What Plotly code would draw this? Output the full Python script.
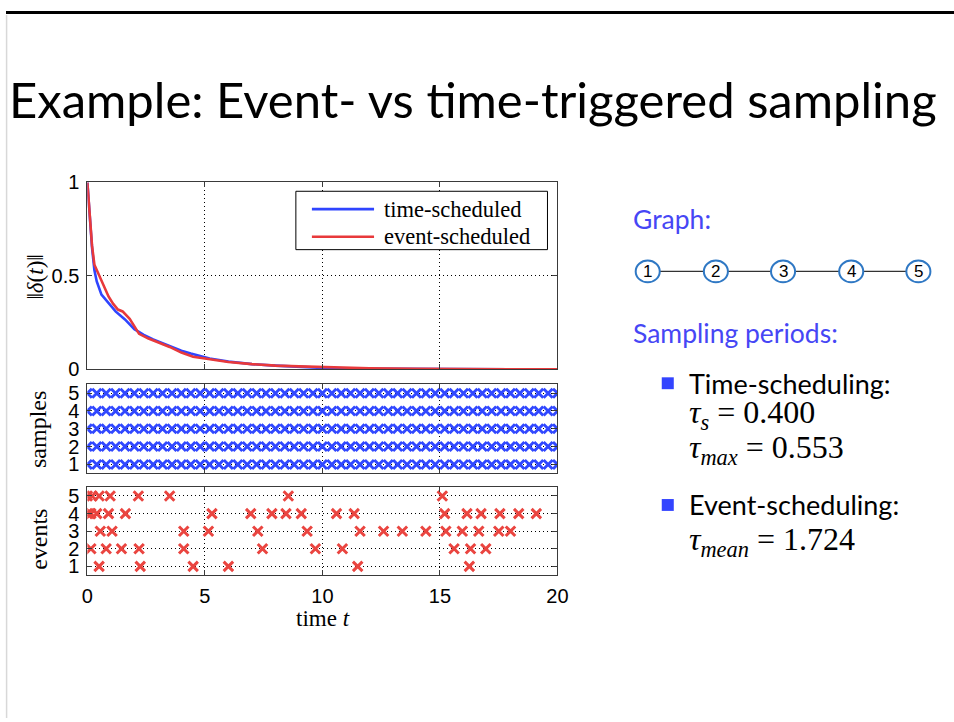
import plotly.graph_objects as go

# Layout positions below are given in slide pixels (954x722 slide). The page
# shows the figure inside the default body margin and at a slight reduction,
# so slide pixels are converted to figure pixels through SCALE and OFF.
SCALE = 0.98
OFF = 8
W = round(954 / SCALE - OFF)
H = round(722 / SCALE - OFF)


def px(x):
    return (x / SCALE - OFF) / W


def py(y):
    return 1 - (y / SCALE - OFF) / H


# ---- disagreement norm ||delta(t)|| ----
t_time = [0, 0.1, 0.2, 0.3, 0.4, 0.6, 0.8, 1.0, 1.2, 1.6, 2.0, 2.4, 2.8, 3.2, 3.6,
          4.0, 4.4, 4.8, 5.2, 6.0, 7.0, 8.0, 9.0, 10.0, 11.0, 12.0, 14.0, 16.0, 18.0, 20.0]
norm_time = [1.0, 0.82, 0.65, 0.53, 0.47, 0.40, 0.37, 0.335, 0.31, 0.267, 0.215, 0.185,
             0.16, 0.14, 0.12, 0.10, 0.085, 0.07, 0.058, 0.042, 0.028, 0.02, 0.013,
             0.008, 0.005, 0.004, 0.002, 0.001, 0.0005, 0.0]

t_event = [0, 0.1, 0.2, 0.3, 0.5, 0.7, 0.9, 1.1, 1.3, 1.5, 1.8, 2.2, 2.6, 3.0, 3.5,
           4.0, 4.5, 5.0, 5.5, 6.0, 7.0, 8.0, 9.0, 10.0, 11.0, 12.0, 14.0, 16.0, 18.0, 20.0]
norm_event = [1.0, 0.80, 0.66, 0.56, 0.50, 0.44, 0.39, 0.35, 0.32, 0.31, 0.27, 0.19,
              0.165, 0.145, 0.12, 0.09, 0.068, 0.058, 0.048, 0.04, 0.028, 0.02, 0.016,
              0.012, 0.009, 0.006, 0.003, 0.0015, 0.0008, 0.0]

# ---- periodic sampling instants (tau_s = 0.4) ----
sample_times = [0.0, 0.4, 0.8, 1.2, 1.6, 2.0, 2.4, 2.8, 3.2, 3.6, 4.0, 4.4, 4.8, 5.2,
                5.6, 6.0, 6.4, 6.8, 7.2, 7.6, 8.0, 8.4, 8.8, 9.2, 9.6, 10.0, 10.4, 10.8,
                11.2, 11.6, 12.0, 12.4, 12.8, 13.2, 13.6, 14.0, 14.4, 14.8, 15.2, 15.6,
                16.0, 16.4, 16.8, 17.2, 17.6, 18.0, 18.4, 18.8, 19.2, 19.6, 20.0]
nodes = [1, 2, 3, 4, 5]

# ---- event-triggered broadcast instants per node ----
events_node1 = [0.5, 2.25, 4.5, 6.0, 11.5, 16.25]
events_node2 = [0.15, 0.8, 1.45, 2.2, 4.1, 7.45, 9.7, 10.85, 15.6, 16.3, 16.95]
events_node3 = [0.55, 1.05, 4.1, 5.15, 7.25, 9.35, 11.6, 12.6, 13.4, 14.4, 15.25,
                15.95, 16.65, 17.5, 18.0]
events_node4 = [0.0, 0.15, 0.4, 0.9, 1.62, 5.3, 6.95, 7.85, 8.45, 9.1, 10.6, 11.35,
                15.2, 16.15, 16.75, 17.55, 18.35, 19.1]
events_node5 = [0.0, 0.2, 0.5, 0.97, 2.17, 3.5, 8.55, 15.1]
events_by_node = [events_node1, events_node2, events_node3, events_node4, events_node5]

x_ticks = [0, 5, 10, 15, 20]
norm_ticks = [0, 0.5, 1]
norm_ticktext = ["0", "0.5", "1"]

BLUE = "#2f45ff"
RED = "#e8393b"
MARK_BLUE = "#3148ff"
MARK_RED = "#ea4540"
FRAME = "#3a3a3a"
TICK_FONT = dict(family="Liberation Sans", size=20, color="black")
SERIF = "Liberation Serif"
SANS = "Lato"

fig = go.Figure()

fig.add_trace(go.Scatter(x=t_time, y=norm_time, mode="lines", name="time-scheduled",
                         line=dict(color=BLUE, width=2.6), xaxis="x", yaxis="y"))
fig.add_trace(go.Scatter(x=t_event, y=norm_event, mode="lines", name="event-scheduled",
                         line=dict(color=RED, width=2.6), xaxis="x", yaxis="y"))

for k in nodes:
    fig.add_trace(go.Scatter(
        x=sample_times, y=[k] * len(sample_times), mode="markers",
        marker=dict(symbol="x-thin", size=9, line=dict(color=MARK_BLUE, width=2.9)),
        xaxis="x2", yaxis="y2", showlegend=False))

for k, ev in zip(nodes, events_by_node):
    fig.add_trace(go.Scatter(
        x=ev, y=[k] * len(ev), mode="markers",
        marker=dict(symbol="x-thin", size=9.5, line=dict(color=MARK_RED, width=3)),
        xaxis="x3", yaxis="y3", showlegend=False))

dom_x = [px(89), px(558)]
axis_common = dict(
    showline=True, linecolor=FRAME, linewidth=1, mirror="ticks",
    ticks="inside", ticklen=5, tickcolor=FRAME, tickwidth=1,
    showgrid=True, gridcolor="black", gridwidth=1, griddash="1px,3px",
    zeroline=False, tickfont=TICK_FONT, fixedrange=True,
)

fig.update_layout(
    width=W, height=H, margin=dict(l=0, r=0, t=0, b=0),
    paper_bgcolor="white", plot_bgcolor="white", showlegend=False,
    xaxis=dict(domain=dom_x, range=[0, 20], tickvals=x_ticks, showticklabels=False,
               anchor="y", **axis_common),
    yaxis=dict(domain=[py(370), py(181)], range=[0, 1], tickvals=norm_ticks,
               ticktext=norm_ticktext, anchor="x", ticklabelstandoff=3, **axis_common),
    xaxis2=dict(domain=dom_x, range=[0, 20], tickvals=x_ticks, showticklabels=False,
                anchor="y2", **axis_common),
    yaxis2=dict(domain=[py(475), py(385)], range=[0.5, 5.5], tickvals=nodes,
                anchor="x2", ticklabelstandoff=3, **axis_common),
    xaxis3=dict(domain=dom_x, range=[0, 20], tickvals=x_ticks, anchor="y3",
                ticklabelstandoff=3, **axis_common),
    yaxis3=dict(domain=[py(578), py(489)], range=[0.5, 5.5], tickvals=nodes,
                anchor="x3", ticklabelstandoff=3, **axis_common),
)

shapes = []
annotations = []

# slide frame: heavy rule along the top edge, faint rule down the left edge
shapes.append(dict(type="line", xref="paper", yref="paper", x0=0, x1=1,
                   y0=1 - 1.5 / H, y1=1 - 1.5 / H, line=dict(color="black", width=3)))
shapes.append(dict(type="line", xref="paper", yref="paper", x0=0.6 / W, x1=0.6 / W,
                   y0=1 - 4 / H, y1=0, line=dict(color="#d8d8d8", width=1.5)))

# title
annotations.append(dict(text="Example: Event- vs time-triggered sampling",
                        xref="paper", yref="paper", x=px(9), y=py(97),
                        xanchor="left", yanchor="middle", showarrow=False,
                        font=dict(family=SANS, size=49, color="black")))

# legend box for the top panel
shapes.append(dict(type="rect", xref="paper", yref="paper",
                   x0=px(297), x1=px(548), y0=py(249), y1=py(190),
                   line=dict(color="black", width=1), fillcolor="white", layer="above"))
for yy, col, label in [(208, BLUE, "time-scheduled"), (236, RED, "event-scheduled")]:
    shapes.append(dict(type="line", xref="paper", yref="paper", x0=px(313), x1=px(375),
                       y0=py(yy), y1=py(yy), line=dict(color=col, width=2.6), layer="above"))
    annotations.append(dict(text=label, xref="paper", yref="paper", x=px(383), y=py(yy),
                            xanchor="left", yanchor="middle", showarrow=False,
                            font=dict(family=SERIF, size=22.5, color="black")))

# axis titles
annotations.append(dict(text="‖<i>δ</i>(<i>t</i>)‖", xref="paper", yref="paper",
                        x=px(37), y=py(277), textangle=-90, showarrow=False,
                        xanchor="center", yanchor="middle",
                        font=dict(family=SERIF, size=23, color="black")))
annotations.append(dict(text="samples", xref="paper", yref="paper",
                        x=px(40), y=py(431), textangle=-90, showarrow=False,
                        xanchor="center", yanchor="middle",
                        font=dict(family=SERIF, size=24, color="black")))
annotations.append(dict(text="events", xref="paper", yref="paper",
                        x=px(40), y=py(542), textangle=-90, showarrow=False,
                        xanchor="center", yanchor="middle",
                        font=dict(family=SERIF, size=24, color="black")))
annotations.append(dict(text="time <i>t</i>", xref="paper", yref="paper",
                        x=px(324), y=py(622), showarrow=False,
                        xanchor="center", yanchor="middle",
                        font=dict(family=SERIF, size=23, color="black")))

# right-hand description
TXT_BLUE = "#4646f5"
annotations.append(dict(text="Graph:", xref="paper", yref="paper", x=px(631), y=py(218),
                        xanchor="left", yanchor="middle", showarrow=False,
                        font=dict(family=SANS, size=26.5, color=TXT_BLUE)))
annotations.append(dict(text="Sampling periods:", xref="paper", yref="paper",
                        x=px(631), y=py(333), xanchor="left", yanchor="middle",
                        showarrow=False, font=dict(family=SANS, size=26.5, color=TXT_BLUE)))

# path graph 1-2-3-4-5
node_cx = [648, 716, 783, 851, 918]
node_cy = 271
rx, ry = 12, 11
for a, b in zip(node_cx[:-1], node_cx[1:]):
    shapes.append(dict(type="line", xref="paper", yref="paper",
                       x0=px(a + rx), x1=px(b - rx), y0=py(node_cy), y1=py(node_cy),
                       line=dict(color="#333333", width=1.2)))
for n, cx in zip(nodes, node_cx):
    shapes.append(dict(type="circle", xref="paper", yref="paper",
                       x0=px(cx - rx), x1=px(cx + rx), y0=py(node_cy + ry), y1=py(node_cy - ry),
                       line=dict(color="#2f78c4", width=2), fillcolor="white"))
    annotations.append(dict(text=str(n), xref="paper", yref="paper", x=px(cx), y=py(node_cy),
                            xanchor="center", yanchor="middle", showarrow=False,
                            font=dict(family="Liberation Sans", size=17, color="black")))

# bullets
for yy, label in [(384, "Time-scheduling:"), (507, "Event-scheduling:")]:
    shapes.append(dict(type="rect", xref="paper", yref="paper",
                       x0=px(662), x1=px(674), y0=py(yy + 6), y1=py(yy - 6),
                       line=dict(width=0), fillcolor="#3344ff"))
    annotations.append(dict(text=label, xref="paper", yref="paper", x=px(687), y=py(yy),
                            xanchor="left", yanchor="middle", showarrow=False,
                            font=dict(family=SANS, size=27, color="black")))

for yy, label in [(416, "<i>τ<sub>s</sub></i>&nbsp;=&nbsp;0.400"),
                  (451, "<i>τ<sub>max</sub></i>&nbsp;=&nbsp;0.553"),
                  (544, "<i>τ<sub>mean</sub></i>&nbsp;=&nbsp;1.724")]:
    annotations.append(dict(text=label, xref="paper", yref="paper", x=px(687), y=py(yy),
                            xanchor="left", yanchor="middle", showarrow=False,
                            font=dict(family=SERIF, size=32, color="black")))

fig.update_layout(shapes=shapes, annotations=annotations)
fig.write_html("out.html")
